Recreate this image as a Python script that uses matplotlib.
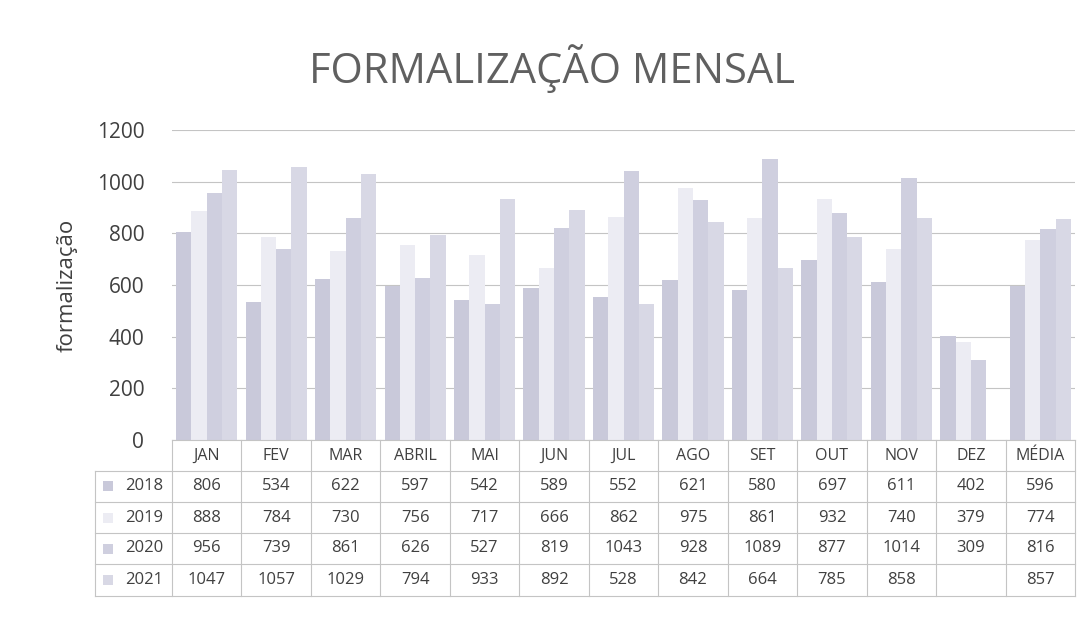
"""
plot.py - monthly formalization chart (bars + data table underneath).
"""
import matplotlib
matplotlib.use("Agg")
import matplotlib.pyplot as plt
import numpy as np
from matplotlib import transforms
from matplotlib.patches import Rectangle

CATEGORIES = ["JAN", "FEV", "MAR", "ABRIL", "MAI", "JUN", "JUL",
              "AGO", "SET", "OUT", "NOV", "DEZ", "MÉDIA"]
YEARS = ["2018", "2019", "2020", "2021"]
V2018 = [806, 534, 622, 597, 542, 589, 552, 621, 580, 697, 611, 402, 596]
V2019 = [888, 784, 730, 756, 717, 666, 862, 975, 861, 932, 740, 379, 774]
V2020 = [956, 739, 861, 626, 527, 819, 1043, 928, 1089, 877, 1014, 309, 816]
V2021 = [1047, 1057, 1029, 794, 933, 892, 528, 842, 664, 785, 858, None, 857]
Y_TICKS = [0, 200, 400, 600, 800, 1000, 1200]

COLORS = ["#c9c9da", "#ececf3", "#cfcfdf", "#d8d8e5"]
TEXT = "#404040"
LINE = "#c4c4c4"
FONT = ["Open Sans", "DejaVu Sans"]

W, H = 1091, 618


def fy(px):
    """pixel row -> figure fraction"""
    return 1 - px / H


def main():
    plt.rcParams["font.family"] = FONT
    fig = plt.figure(figsize=(W / 100, H / 100), dpi=100)
    ax = fig.add_axes([172 / W, fy(440), (1075 - 172) / W, (440 - 130) / H])

    series = [V2018, V2019, V2020, V2021]
    n = len(CATEGORIES)
    x = np.arange(n)
    bw = 0.22
    for i, (vals, col) in enumerate(zip(series, COLORS)):
        h = np.array([np.nan if v is None else v for v in vals], dtype=float)
        ax.bar(x + (i - 1.5) * bw, h, width=bw, color=col, zorder=2)

    ax.set_xlim(-0.5, n - 0.5)
    ax.set_ylim(0, 1200)
    ax.set_yticks(Y_TICKS)
    ax.set_yticklabels([str(t) for t in Y_TICKS], fontsize=15, color=TEXT)
    ax.tick_params(axis="y", length=0, pad=20)
    ax.set_xticks([])
    ax.grid(axis="y", color=LINE, lw=0.8, zorder=0)
    for s in ax.spines.values():
        s.set_visible(False)
    ax.set_ylabel("formalização", fontsize=16, color=TEXT, labelpad=14)

    fig.text(0.506, fy(69), "FORMALIZAÇÃO MENSAL", ha="center", va="center",
             fontsize=30, color="#606060")

    # data table below the axis
    tr = transforms.blended_transform_factory(ax.transData, fig.transFigure)
    rows_px = [440, 471, 502, 533, 564, 596]
    left = -0.5 - 77 / 69.5
    right = n - 0.5
    kw = dict(transform=tr, clip_on=False, color=LINE, lw=0.8)

    # horizontal rules
    ax.plot([-0.5, right], [fy(rows_px[0])] * 2, **kw)
    for r in rows_px[1:]:
        ax.plot([left, right], [fy(r)] * 2, **kw)
    # vertical rules
    for b in np.arange(-0.5, n + 0.5, 1.0):
        ax.plot([b, b], [fy(rows_px[0]), fy(rows_px[-1])], **kw)
    ax.plot([left, left], [fy(rows_px[1]), fy(rows_px[-1])], **kw)

    txt = dict(transform=tr, clip_on=False, color=TEXT, va="center")
    for j, c in enumerate(CATEGORIES):
        ax.text(j, fy((rows_px[0] + rows_px[1]) / 2), c, ha="center",
                fontsize=11.5, **txt)
    for i, (yr, vals, col) in enumerate(zip(YEARS, series, COLORS)):
        yc = fy((rows_px[i + 1] + rows_px[i + 2]) / 2)
        ax.text(-0.63, yc, yr, ha="right", fontsize=12, **txt)
        ax.add_patch(Rectangle((-1.5, yc - 5 / H), 0.15, 10 / H, transform=tr,
                               clip_on=False, facecolor=col, edgecolor="none"))
        for j, v in enumerate(vals):
            if v is None:
                continue
            ax.text(j, yc, str(v), ha="center", fontsize=12, **txt)

    fig.savefig("out.png", dpi=100)
    plt.close(fig)


if __name__ == "__main__":
    main()
